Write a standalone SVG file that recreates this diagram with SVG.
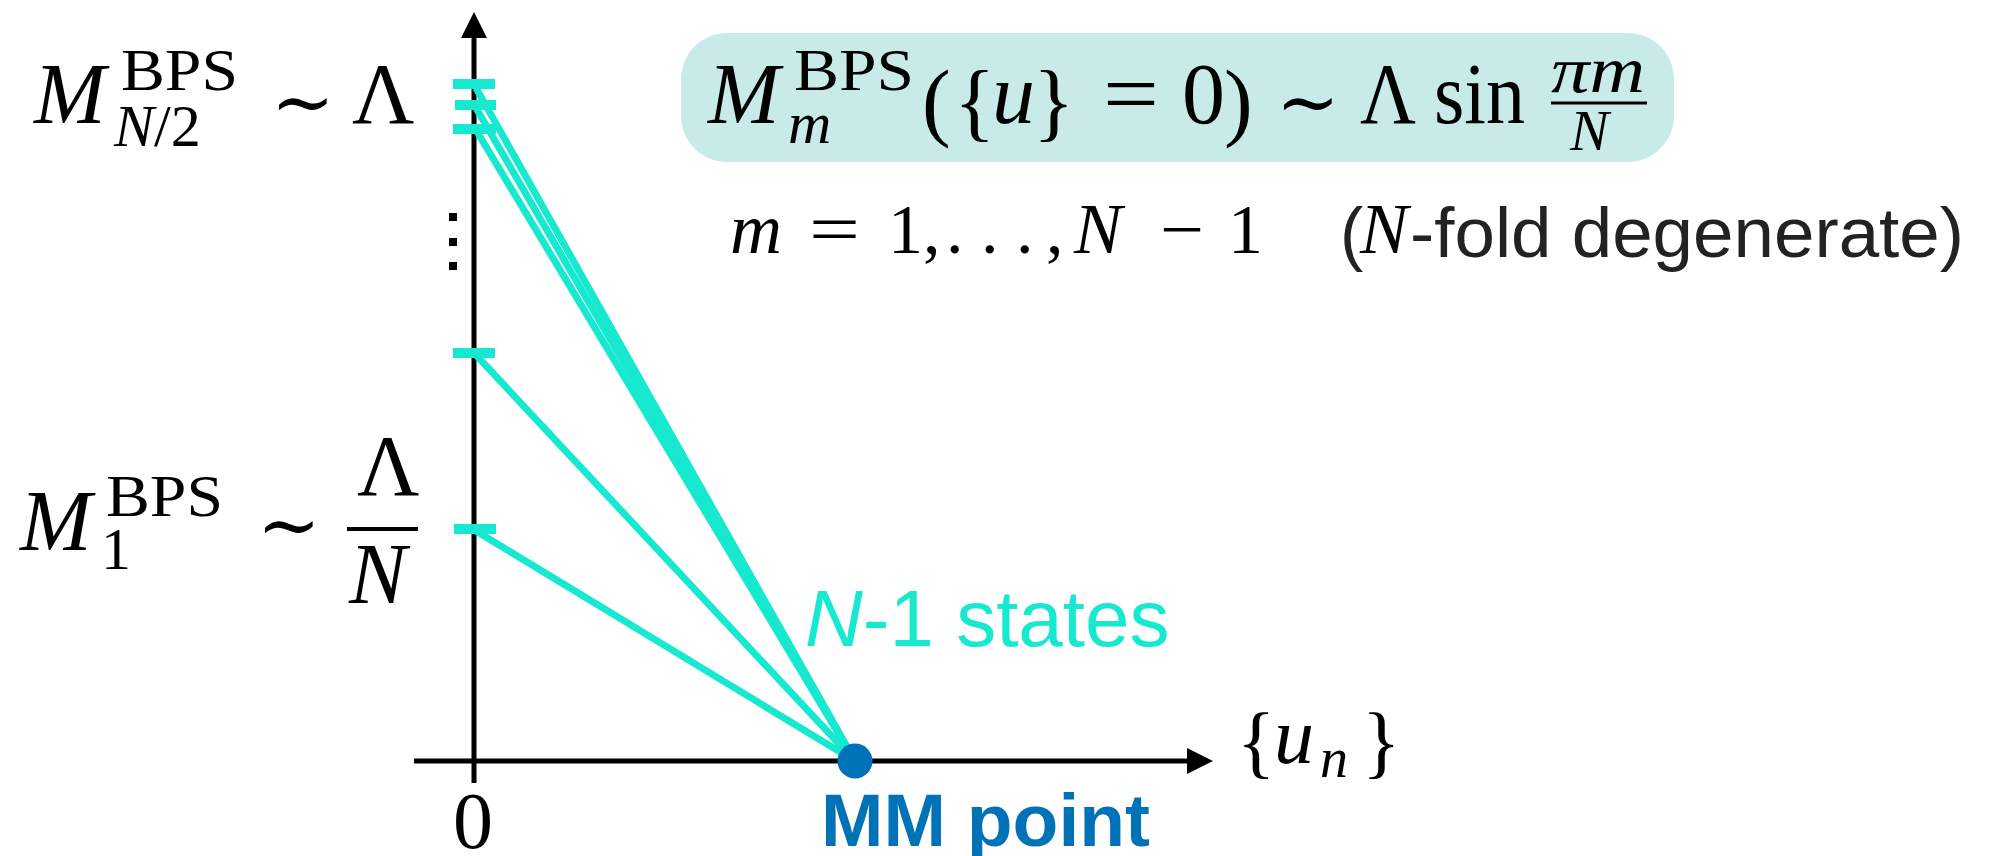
<svg xmlns="http://www.w3.org/2000/svg" width="1997" height="856" viewBox="0 0 1997 856">
<defs>
<style>
.mi{font-family:"Liberation Serif","DejaVu Serif",serif;font-style:italic;fill:#000}
.mr{font-family:"Liberation Serif","DejaVu Serif",serif;fill:#000}
.sym{font-family:"DejaVu Serif","Liberation Serif",serif;fill:#000}
.sans{font-family:"Liberation Sans",Arial,sans-serif}
.axis{stroke:#000;stroke-width:5;fill:none}
.lvl{stroke:#17e8d0;stroke-width:7;fill:none}
.tick{fill:#17e8d0}
.dot{fill:#000}
</style>
</defs>
<rect width="1997" height="856" fill="#fff"/>

<g id="axes">
<line class="axis" x1="474" y1="32" x2="474" y2="783"/>
<polygon points="474,12 461,38 487,38" fill="#000"/>
<line class="axis" x1="414" y1="761" x2="1190" y2="761"/>
<polygon points="1213,761 1187,748 1187,774" fill="#000"/>
<text class="mr" x="473" y="848" font-size="80" text-anchor="middle">0</text>
<text class="mr" x="1237" y="768" font-size="80">{</text>
<text class="mi" x="1274" y="763" font-size="80">u</text>
<text class="mi" x="1320" y="777" font-size="56">n</text>
<text class="mr" x="1362" y="768" font-size="80">}</text>
</g>

<g id="connectors">
<line class="lvl" x1="476" y1="130" x2="855" y2="761"/>
<line class="lvl" x1="476" y1="108" x2="855" y2="761"/>
<line class="lvl" x1="476" y1="88" x2="855" y2="761"/>
<line class="lvl" x1="476" y1="355" x2="855" y2="761"/>
<line class="lvl" x1="476" y1="531" x2="855" y2="761"/>
</g>

<g id="ticks">
<rect class="tick" x="453" y="79" width="42" height="10"/>
<rect class="tick" x="455" y="100" width="41" height="10"/>
<rect class="tick" x="453" y="124" width="43" height="10"/>
<rect class="tick" x="453" y="348" width="42" height="10"/>
<rect class="tick" x="454" y="524" width="42" height="10"/>
<rect class="dot" x="449" y="213" width="8" height="8"/>
<rect class="dot" x="449" y="238" width="8" height="8"/>
<rect class="dot" x="449" y="262" width="8" height="8"/>
</g>

<g id="label-top">
<text class="mi" x="34" y="123" font-size="86">M</text>
<text class="mr" x="121" y="90" font-size="60" textLength="117" lengthAdjust="spacingAndGlyphs">BPS</text>
<text x="114" y="146" font-size="60"><tspan class="mi">N</tspan><tspan class="mr">/2</tspan></text>
<text class="sym" x="271" y="128" font-size="76">∼</text>
<text class="mr" x="352" y="123" font-size="86">Λ</text>
</g>

<g id="label-bottom">
<text class="mi" x="20" y="550" font-size="86">M</text>
<text class="mr" x="106" y="516" font-size="60" textLength="117" lengthAdjust="spacingAndGlyphs">BPS</text>
<text class="mr" x="101" y="569" font-size="60">1</text>
<text class="sym" x="257" y="551" font-size="76">∼</text>
<text class="mr" x="357" y="495" font-size="86">Λ</text>
<line x1="347" y1="529" x2="418" y2="529" stroke="#000" stroke-width="4"/>
<text class="mi" x="349" y="603" font-size="86">N</text>
</g>

<g id="formula-box">
<rect x="681" y="33" width="993" height="129" rx="46" ry="46" fill="#c8ebea"/>
<text class="mi" x="708" y="123" font-size="86">M</text>
<text class="mr" x="794" y="90" font-size="60" textLength="120" lengthAdjust="spacingAndGlyphs">BPS</text>
<text class="mi" x="788" y="143" font-size="60">m</text>
<text class="mr" x="922" y="130" font-size="86">(</text>
<text class="mr" x="954" y="130" font-size="86">{</text>
<text class="mi" x="992" y="123" font-size="86">u</text>
<text class="mr" x="1033" y="130" font-size="86">}</text>
<text class="mr" x="1103" y="123" font-size="86" textLength="56" lengthAdjust="spacingAndGlyphs">=</text>
<text class="mr" x="1182" y="123" font-size="86">0</text>
<text class="mr" x="1224" y="130" font-size="86">)</text>
<text class="sym" x="1276" y="128" font-size="76">∼</text>
<text class="mr" x="1360" y="123" font-size="86" textLength="56" lengthAdjust="spacingAndGlyphs">Λ</text>
<text class="mr" x="1434" y="123" font-size="86" textLength="91" lengthAdjust="spacingAndGlyphs">sin</text>
<text class="mi" x="1551" y="92" font-size="66" textLength="94" lengthAdjust="spacingAndGlyphs">πm</text>
<line x1="1551" y1="103" x2="1647" y2="103" stroke="#000" stroke-width="3"/>
<text class="mi" x="1570" y="150" font-size="58">N</text>
</g>

<g id="range-line">
<text class="mi" x="730" y="253" font-size="72">m</text>
<text class="mr" x="809" y="253" font-size="70" textLength="51" lengthAdjust="spacingAndGlyphs">=</text>
<text class="mr" x="888" y="253" font-size="70">1,</text>
<text class="mr" x="946" y="253" font-size="70">. . .</text>
<text class="mr" x="1046" y="253" font-size="70">,</text>
<text class="mi" x="1074" y="253" font-size="72">N</text>
<text class="mr" x="1160" y="253" font-size="70" textLength="44" lengthAdjust="spacingAndGlyphs">−</text>
<text class="mr" x="1228" y="253" font-size="70">1</text>
<text class="sans" x="1340" y="257" font-size="70" fill="#222">(</text>
<text class="mi" x="1360" y="253" font-size="72" fill="#222">N</text>
<text class="sans" x="1410" y="257" font-size="70" fill="#222" textLength="554" lengthAdjust="spacingAndGlyphs">-fold degenerate)</text>
</g>

<g id="states-label">
<text class="sans" x="805" y="646" font-size="80" fill="#17e8d0"><tspan font-style="italic">N</tspan>-1 states</text>
</g>

<g id="mm-point">
<circle cx="855" cy="761" r="17.5" fill="#0072b8"/>
<text class="sans" x="821" y="846" font-size="75" font-weight="bold" fill="#0072b8">MM point</text>
</g>
</svg>
